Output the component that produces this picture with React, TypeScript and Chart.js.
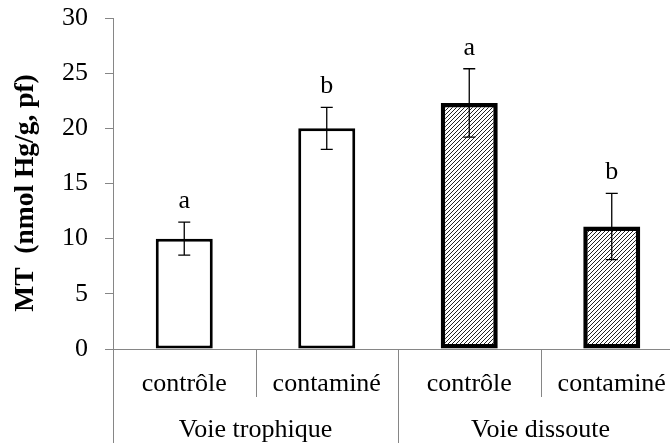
import React, { useEffect, useRef } from 'react';
import { Chart, registerables } from 'chart.js';
Chart.register(...registerables);

const categories = ['contrôle', 'contaminé', 'contrôle', 'contaminé'];
const groups = ['Voie trophique', 'Voie dissoute'];
const values = [10, 20, 22.3, 11.1];
const errors = [1.5, 1.9, 3.1, 3.0];
const letters = ['a', 'b', 'a', 'b'];
const hatched = [false, false, true, true];
const yTitle = 'MT  (nmol Hg/g, pf)';
const yMin = 0;
const yMax = 30;
const yStep = 5;

const SERIF = "'Liberation Serif', 'Times New Roman', serif";
const AXIS_GREY = '#868686';

function makeHatch(): CanvasPattern | string {
  const c = document.createElement('canvas');
  c.width = 4;
  c.height = 4;
  const g = c.getContext('2d');
  if (!g) return '#888';
  g.fillStyle = '#ffffff';
  g.fillRect(0, 0, 4, 4);
  g.strokeStyle = '#222222';
  g.lineWidth = 1;
  g.beginPath();
  g.moveTo(-1, 5);
  g.lineTo(5, -1);
  g.stroke();
  g.beginPath();
  g.moveTo(-1, 1);
  g.lineTo(1, -1);
  g.stroke();
  g.beginPath();
  g.moveTo(3, 5);
  g.lineTo(5, 3);
  g.stroke();
  return g.createPattern(c, 'repeat') || '#888';
}

const extrasPlugin = {
  id: 'extras',
  afterDatasetsDraw(chart: any) {
    const ctx = chart.ctx;
    const y = chart.scales.y;
    const meta = chart.getDatasetMeta(0);
    ctx.save();
    meta.data.forEach((bar: any, i: number) => {
      const x = bar.x;
      const top = y.getPixelForValue(values[i] + errors[i]);
      const bot = y.getPixelForValue(values[i] - errors[i]);
      ctx.strokeStyle = '#000';
      ctx.lineWidth = 1.3;
      ctx.beginPath();
      ctx.moveTo(x, top);
      ctx.lineTo(x, bot);
      ctx.moveTo(x - 6, top);
      ctx.lineTo(x + 6, top);
      ctx.moveTo(x - 6, bot);
      ctx.lineTo(x + 6, bot);
      ctx.stroke();
      ctx.fillStyle = '#000';
      ctx.font = `26px ${SERIF}`;
      ctx.textAlign = 'center';
      ctx.textBaseline = 'alphabetic';
      ctx.fillText(letters[i], x, top - 14);
    });
    ctx.restore();
  },
  afterDraw(chart: any) {
    const ctx = chart.ctx;
    const xs = chart.scales.x;
    const area = chart.chartArea;
    const n = categories.length;
    const w = xs.getPixelForValue(1) - xs.getPixelForValue(0);
    const bottom = chart.height;
    ctx.save();
    ctx.strokeStyle = AXIS_GREY;
    ctx.lineWidth = 1;
    for (let i = 0; i <= n; i++) {
      const bx = Math.round(xs.getPixelForValue(0) - w / 2 + i * w) + 0.5;
      const long = i % 2 === 0;
      ctx.beginPath();
      ctx.moveTo(bx, area.bottom);
      ctx.lineTo(bx, long ? bottom : area.bottom + 48);
      ctx.stroke();
    }
    ctx.fillStyle = '#000';
    ctx.font = `26px ${SERIF}`;
    ctx.textAlign = 'center';
    ctx.textBaseline = 'alphabetic';
    groups.forEach((g, gi) => {
      const cx = (xs.getPixelForValue(gi * 2) + xs.getPixelForValue(gi * 2 + 1)) / 2;
      ctx.fillText(g, cx, 437);
    });
    ctx.translate(26, 193);
    ctx.rotate(-Math.PI / 2);
    ctx.font = `bold 27.5px ${SERIF}`;
    ctx.textBaseline = 'middle';
    ctx.fillText(yTitle, 0, 0);
    ctx.restore();
  },
};

export default function App() {
  const ref = useRef<HTMLCanvasElement | null>(null);
  useEffect(() => {
    if (!ref.current) return;
    const hatch = makeHatch();
    const chart = new Chart(ref.current, {
      type: 'bar',
      data: {
        labels: categories,
        datasets: [
          {
            data: values,
            backgroundColor: hatched.map((h) => (h ? hatch : '#ffffff')) as any,
            borderColor: '#000',
            borderWidth: hatched.map((h) => (h ? 4.5 : 3)),
            borderSkipped: false,
            barPercentage: 0.4,
            categoryPercentage: 1,
          },
        ],
      },
      options: {
        animation: false,
        responsive: false,
        devicePixelRatio: 1,
        layout: { padding: { top: 18, right: 17, left: 0, bottom: 0 } },
        plugins: { legend: { display: false }, tooltip: { enabled: false } },
        scales: {
          x: {
            type: 'category',
            offset: true,
            grid: { display: false },
            border: { color: AXIS_GREY, width: 1 },
            ticks: {
              color: '#000',
              font: { family: SERIF, size: 26 },
              padding: 12,
              maxRotation: 0,
              autoSkip: false,
            },
            afterFit: (s: any) => {
              s.height = 94;
              s.paddingLeft = 0;
              s.paddingRight = 0;
            },
          },
          y: {
            min: yMin,
            max: yMax,
            grid: { drawOnChartArea: false, drawTicks: true, tickLength: 8, color: AXIS_GREY },
            border: { color: AXIS_GREY, width: 1 },
            ticks: {
              stepSize: yStep,
              color: '#000',
              font: { family: SERIF, size: 26 },
              padding: 17,
            },
            afterFit: (s: any) => {
              s.width = 113;
              s.paddingTop = 0;
              s.paddingBottom = 0;
            },
          },
        },
      },
      plugins: [extrasPlugin],
    });
    return () => chart.destroy();
  }, []);
  return (
    <div
      style={{
        position: 'fixed',
        left: 0,
        top: 0,
        width: 670,
        height: 443,
        overflow: 'hidden',
        background: '#fff',
      }}
    >
      <canvas ref={ref} width={700} height={443} style={{ width: 700, height: 443, display: 'block' }} />
    </div>
  );
}
